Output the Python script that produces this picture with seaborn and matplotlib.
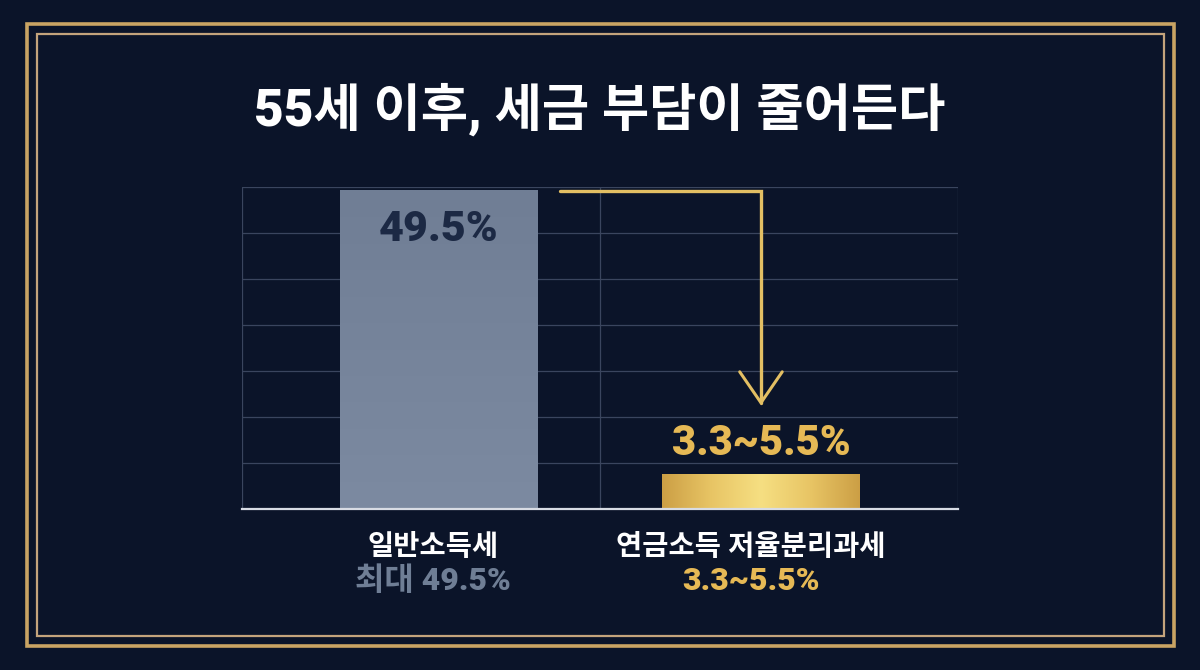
import numpy as np
import pandas as pd
import matplotlib
matplotlib.use("Agg")
import matplotlib.pyplot as plt
import seaborn as sns
from matplotlib.patches import Rectangle
from matplotlib.colors import LinearSegmentedColormap

# ---- data ----
categories = ["일반소득세", "연금소득 저율분리과세"]
values = [49.5, 5.5]
bar_labels = ["49.5%", "3.3~5.5%"]
sub_labels = ["최대 49.5%", "3.3~5.5%"]
title = "55세 이후, 세금 부담이 줄어든다"

BG = "#0b1429"
GOLD = "#e6b955"
GRAY_TXT = "#6f7e95"
BAR1 = "#76849b"
GRID = "#3a455e"

sns.set_theme(style="dark")
plt.rcParams['font.family'] = ['Roboto', 'Noto Sans CJK KR', 'DejaVu Sans']

fig = plt.figure(figsize=(12, 6.7), dpi=100, facecolor=BG)
ax = fig.add_axes([242/1200, 1-509/670, (958-242)/1200, (509-187)/670])
ax.set_facecolor(BG)

df = pd.DataFrame({"cat": categories, "val": values})
sns.barplot(data=df, x="cat", y="val", ax=ax, width=0.615,
            palette=[BAR1, "#e0b957"], hue="cat", legend=False,
            edgecolor="none", saturation=1)

ax.set_xlim(-0.612, 1.612)
ax.set_ylim(0, 50)
ax.set_yticks(np.linspace(0, 50, 8))
ax.set_xticks([-0.612, 0.5, 1.612])
ax.grid(True, color=GRID, linewidth=0.9)
ax.set_axisbelow(True)
ax.tick_params(length=0, labelbottom=False, labelleft=False)
ax.set_xlabel("")
ax.set_ylabel("")
for s in ["left", "right", "top"]:
    ax.spines[s].set_visible(False)
ax.spines["bottom"].set_color("#d8dce4")
ax.spines["bottom"].set_linewidth(1.6)
ax.spines["bottom"].set_zorder(5)

# gradients on bars
patches = ax.patches
gold_cmap = LinearSegmentedColormap.from_list("g", ["#cc9f45", "#e8c565", "#f6df82", "#e8c565", "#cc9f45"])
gray_cmap = LinearSegmentedColormap.from_list("s", ["#7c8aa1", "#707e95"])
for p, cm, horiz in zip(patches, [gray_cmap, gold_cmap], [False, True]):
    x0, y0 = p.get_x(), p.get_y()
    w, h = p.get_width(), p.get_height()
    if horiz:
        grad = np.linspace(0, 1, 256).reshape(1, -1)
    else:
        grad = np.linspace(0, 1, 256).reshape(-1, 1)
    im = ax.imshow(grad, cmap=cm, extent=[x0, x0 + w, y0, y0 + h],
                   aspect="auto", origin="lower", zorder=p.get_zorder() + 0.1)
    im.set_clip_path(p)

# value labels
ax.text(0, values[0] - 6.1, bar_labels[0], ha="center", va="center",
        fontsize=31, fontweight="heavy", color="#1c2944", zorder=6)
ax.text(1, values[1] + 4.6, bar_labels[1], ha="center", va="center",
        fontsize=30, fontweight="heavy", color=GOLD, zorder=6)

# arrow (elbow) from bar 1 top to bar 2
ax_y_top = values[0] - 0.1
x_start = 0.376
x_end = 1.0
y_end = 16.5
ax.plot([x_start, x_end, x_end], [ax_y_top, ax_y_top, y_end],
        color="#e3bf63", linewidth=2.4, solid_joinstyle="miter", zorder=6)
ax.plot([x_end - 0.066, x_end, x_end + 0.066], [y_end + 4.8, y_end, y_end + 4.8],
        color="#e3bf63", linewidth=2.2, zorder=6)

# category labels below
centers = [433, 751]
for i, (c, s, col) in enumerate(zip(categories, sub_labels, [GRAY_TXT, GOLD])):
    xf = centers[i] / 1200
    fig.text(xf, 1 - 548/670, c, ha="center", va="center", fontsize=20.5,
             fontweight="heavy", color="white")
    fig.text(xf, 1 - 581/670, s, ha="center", va="center", fontsize=23,
             fontweight="heavy", color=col)

# title
fig.text(0.5, 1 - 110/670, title, ha="center", va="center", fontsize=37,
         fontweight="heavy", color="white")

# frames
fig.patches.append(Rectangle((27/1200, 1 - 646/670), (1174-27)/1200, (646-24)/670,
                             transform=fig.transFigure, fill=False,
                             edgecolor="#c9a463", linewidth=2.6))
fig.patches.append(Rectangle((36.5/1200, 1 - 636/670), (1164-36.5)/1200, (636-33.5)/670,
                             transform=fig.transFigure, fill=False,
                             edgecolor="#c4a47c", linewidth=1.6))

fig.savefig("out.png", dpi=100, facecolor=BG)
